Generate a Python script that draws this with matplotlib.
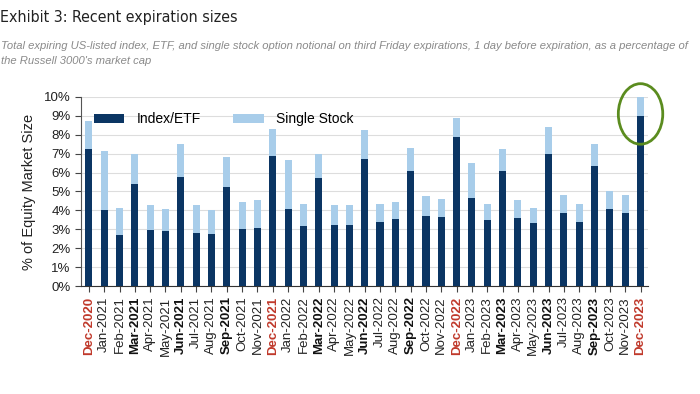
import numpy as np
import matplotlib.pyplot as plt
from matplotlib.patches import Ellipse
from matplotlib import font_manager

# 数据（从图中读取，单位: %）
months = ['Dec-2020', 'Jan-2021', 'Feb-2021', 'Mar-2021', 'Apr-2021', 'May-2021',
          'Jun-2021', 'Jul-2021', 'Aug-2021', 'Sep-2021', 'Oct-2021', 'Nov-2021',
          'Dec-2021', 'Jan-2022', 'Feb-2022', 'Mar-2022', 'Apr-2022', 'May-2022',
          'Jun-2022', 'Jul-2022', 'Aug-2022', 'Sep-2022', 'Oct-2022', 'Nov-2022',
          'Dec-2022', 'Jan-2023', 'Feb-2023', 'Mar-2023', 'Apr-2023', 'May-2023',
          'Jun-2023', 'Jul-2023', 'Aug-2023', 'Sep-2023', 'Oct-2023', 'Nov-2023',
          'Dec-2023']
index_etf = [7.22, 4.01, 2.69, 5.37, 2.96, 2.89, 5.76, 2.83, 2.76, 5.25, 3.03, 3.08,
             6.90, 4.05, 3.17, 5.69, 3.22, 3.22, 6.71, 3.40, 3.52, 6.07, 3.71, 3.66,
             7.90, 4.63, 3.47, 6.07, 3.61, 3.35, 6.97, 3.84, 3.40, 6.34, 4.05, 3.84,
             9.00]
total = [8.73, 7.15, 4.15, 7.00, 4.28, 4.10, 7.52, 4.28, 4.01, 6.83, 4.47, 4.54,
         8.29, 6.65, 4.35, 7.00, 4.28, 4.28, 8.27, 4.33, 4.47, 7.32, 4.74, 4.60,
         8.86, 6.51, 4.33, 7.22, 4.54, 4.15, 8.42, 4.84, 4.35, 7.52, 5.04, 4.79,
         10.00]
single_stock = [t - i for t, i in zip(total, index_etf)]

DARK = '#0b3563'
LIGHT = '#a8cdea'

plt.rcParams['font.family'] = ['Liberation Sans', 'DejaVu Sans']

# 标题字体：优先使用常规粗细的窄体
cond = [f for f in font_manager.fontManager.ttflist
        if ('Condensed' in f.fname or 'Narrow' in f.fname)
        and f.weight in (400, 'normal', 'regular', 'book') and f.style == 'normal']

fig = plt.figure(figsize=(7, 3.94), dpi=100)
ax = fig.add_axes([0.116, 0.274, 0.81, 0.480])

x = np.arange(len(months))
ax.bar(x, index_etf, width=0.46, color=DARK, label='Index/ETF', zorder=3)
ax.bar(x, single_stock, width=0.46, bottom=index_etf, color=LIGHT,
       label='Single Stock', zorder=3)

ax.set_xlim(-0.5, len(months) - 0.5)
ax.set_ylim(0, 10)
ax.set_yticks(range(0, 11))
ax.set_yticklabels([f'{v}%' for v in range(0, 11)], fontsize=9.5, color='#222222')
ax.yaxis.grid(True, color='#dddddd', linewidth=0.8, zorder=0)

ax.set_xticks(x)
ax.set_xticklabels(months, rotation=90, fontsize=9.5)
for lbl, m in zip(ax.get_xticklabels(), months):
    mon = m.split('-')[0]
    if mon == 'Dec':
        lbl.set_color('#c0392b')
        lbl.set_fontweight('bold')
    elif mon in ('Mar', 'Jun', 'Sep'):
        lbl.set_fontweight('bold')
        lbl.set_color('#111111')
    else:
        lbl.set_color('#222222')

for s in ['top', 'right']:
    ax.spines[s].set_visible(False)
ax.spines['left'].set_color('#555555')
ax.spines['bottom'].set_color('#333333')
ax.tick_params(axis='both', direction='out', length=4, color='#444444')

ax.set_ylabel('% of Equity Market Size', fontsize=10.5, color='#222222', labelpad=6)

ax.legend(loc='upper left', bbox_to_anchor=(0.0, 0.985), ncol=2, frameon=False,
          fontsize=10, handlelength=2.2, handleheight=0.6, columnspacing=2.3,
          handletextpad=0.9)

# 绿色椭圆标注
ell = Ellipse((36, 9.1), width=2.9, height=3.2, fill=False, edgecolor='#5b8c1f',
              linewidth=2, zorder=4, clip_on=False)
ax.add_patch(ell)

# 标题
if cond:
    title_kw = dict(fontproperties=font_manager.FontProperties(fname=cond[0].fname, size=11.4))
else:
    title_kw = dict(fontsize=11)
fig.text(0.0, 0.955, 'Exhibit 3: Recent expiration sizes', color='#222222',
         va='center', ha='left', **title_kw)
fig.text(0.001, 0.882, "Total expiring US-listed index, ETF, and single stock option notional on third Friday expirations, 1 day before expiration, as a percentage of",
         fontsize=8.1, style='italic', color='#8a8a8a', va='center', ha='left')
fig.text(0.001, 0.845, "the Russell 3000's market cap",
         fontsize=8.1, style='italic', color='#8a8a8a', va='center', ha='left')

fig.savefig('out.png', dpi=100)
